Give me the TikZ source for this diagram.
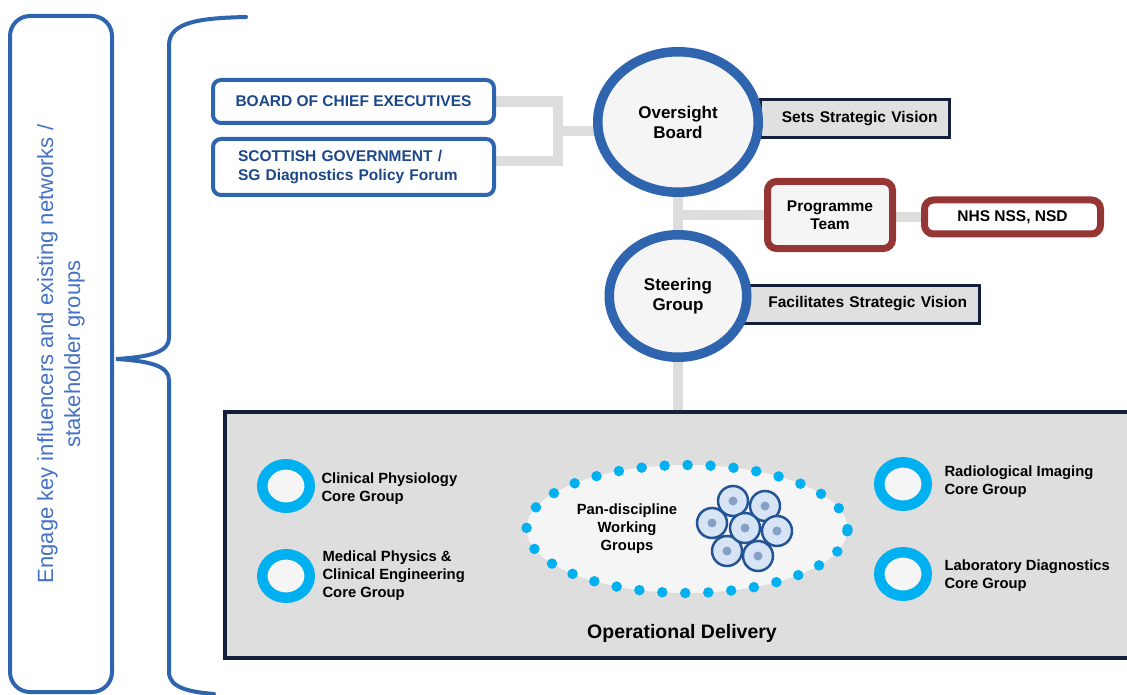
\documentclass[tikz,border=0pt]{standalone}
\usepackage{fontspec}
\setmainfont{Liberation Sans}
\definecolor{orgblue}{RGB}{47,100,174}
\definecolor{govtext}{RGB}{28,72,138}
\definecolor{engagetext}{RGB}{68,114,196}
\definecolor{linkgray}{RGB}{221,221,221}
\definecolor{teamred}{RGB}{150,54,52}
\definecolor{navyline}{RGB}{18,32,60}
\definecolor{coreblue}{RGB}{0,176,240}
\definecolor{paleface}{RGB}{245,245,245}
\definecolor{opsgray}{RGB}{222,222,222}
\definecolor{sidegray}{RGB}{224,224,224}
\definecolor{iconblue}{RGB}{35,85,150}
\definecolor{iconpale}{RGB}{214,228,245}
\usetikzlibrary{positioning, shapes.geometric, backgrounds}

\begin{document}
\begin{tikzpicture}[x=1pt, y=-1pt,
		engagebox/.style={draw=orgblue, line width=4pt, rounded corners=20pt, text=engagetext, align=center, font=\fontsize{22}{27}\selectfont},
		brace/.style={draw=orgblue, line width=4pt, line cap=round},
		govbox/.style={draw=orgblue, line width=4pt, rounded corners=8pt, fill=white, text=govtext, minimum width=281pt, font=\fontsize{15.5}{19}\selectfont\bfseries},
		groupcircle/.style={ellipse, draw=orgblue, line width=9.5pt, fill=paleface, align=center, font=\fontsize{17}{20}\selectfont\bfseries},
		sidebox/.style={draw=navyline, line width=3pt, fill=sidegray, inner xsep=12pt, minimum height=38pt, align=right, font=\fontsize{15.5}{18}\selectfont\bfseries},
		teambox/.style={draw=teamred, line width=7pt, rounded corners=9pt, fill=paleface, align=center, font=\fontsize{15.5}{18}\selectfont\bfseries},
		link/.style={draw=linkgray, line width=10.5pt},
		ring/.style={ellipse, draw=coreblue, line width=10.5pt, fill=paleface, minimum width=47.5pt, minimum height=43.5pt, inner sep=0pt},
		coretext/.style={align=left, font=\fontsize{14.8}{18}\selectfont\bfseries},
		iconring/.style={draw=iconblue, line width=2.5pt, fill=iconpale}
		]
	\useasboundingbox (0,0) rectangle (1127,695);

	\node[engagebox, rotate=90, minimum width=676pt, minimum height=102pt] (engage) at (61,354) {Engage key influencers and existing networks /\\stakeholder groups};
	\draw[brace] (246,17) .. controls (200,18) and (169,22) .. (169,45) -- (169,338) .. controls (169,352) and (150,357) .. (116,359) .. controls (150,361) and (169,366) .. (169,380) -- (169,672) .. controls (169,688) and (190,692) .. (214,694);

	\node[govbox, minimum height=43pt] (bce) at (353.5,101.5) {BOARD OF CHIEF EXECUTIVES};
	\node[govbox, align=left, text width=231pt, minimum height=56pt, below=12pt of bce] (sg) {SCOTTISH GOVERNMENT /\\SG Diagnostics Policy Forum};

	\node[groupcircle, minimum width=160.5pt, minimum height=140.5pt] (oversight) at (678,122) {Oversight\\Board};
	\node[groupcircle, minimum width=137.5pt, minimum height=122.5pt, below=33pt of oversight] (steering) {Steering\\Group};
	\node[teambox, minimum width=125pt, minimum height=67pt] (progteam) at (830,215) {Programme\\Team};
	\node[teambox, fill=white, minimum width=176pt, minimum height=34pt, right=25pt of progteam, yshift=-2pt] (nss) {NHS NSS, NSD};

	\node[draw=navyline, line width=4pt, fill=opsgray, minimum width=915pt, minimum height=246pt] (ops) at (682,535) {};
	\node[font=\fontsize{19.5}{22}\selectfont\bfseries, above=14pt of ops.south] (opslabel) {Operational Delivery};

	\foreach \n/\x/\y in {cp/286/486, mp/286/576, ri/903/484, ld/903/574}
		\node[ring] (\n) at (\x,\y) {};
	\node[coretext, right=3pt of cp, yshift=-3pt] (cptext) {Clinical Physiology\\Core Group};
	\node[coretext, right=4pt of mp] (mptext) {Medical Physics \&\\Clinical Engineering\\Core Group};
	\node[coretext, right=9pt of ri, yshift=2pt] (ritext) {Radiological Imaging\\Core Group};
	\node[coretext, right=9pt of ld, yshift=-2pt] (ldtext) {Laboratory Diagnostics\\Core Group};

	\node[ellipse, draw=coreblue, fill=paleface, line width=10.5pt, line cap=round, dash pattern=on 0pt off 23pt, minimum width=321pt, minimum height=128pt] (pan) at (687,529) {};
	\node[coretext, align=center] (pantext) at ([xshift=-60pt]pan.center) {Pan-discipline\\Working\\Groups};
	\coordinate (icon) at ([xshift=58pt]pan.center);
	\foreach \dx/\dy in {-12/-28, 20/-23, -33/-6, 32/2, -18/22, 13/27, 0/-1}{
		\draw[iconring] ([shift={(\dx,\dy)}]icon) circle (15);
		\fill[iconblue!55] ([shift={(\dx,\dy)}]icon) circle (4.5);
	}

	\begin{scope}[on background layer]
		\node[sidebox, text width=165pt, anchor=west] (vision) at ([xshift=-4pt, yshift=3pt]oversight.east) {Sets Strategic Vision};
		\node[sidebox, text width=212pt, anchor=west] (facil) at ([xshift=-10pt, yshift=-8pt]steering.east) {Facilitates Strategic Vision};
		\coordinate (fork) at (558,131);
		\draw[link] (bce.east) -| (fork) |- ([yshift=6pt]sg.east);
		\draw[link] (fork) -- (fork -| oversight.center);
		\draw[link] (oversight) -- (steering) -- (steering |- ops.north);
		\draw[link] (oversight |- progteam.west) -- (progteam);
		\draw[link] (nss.west) -- (nss.west -| progteam.east);
	\end{scope}
\end{tikzpicture}
\end{document}
